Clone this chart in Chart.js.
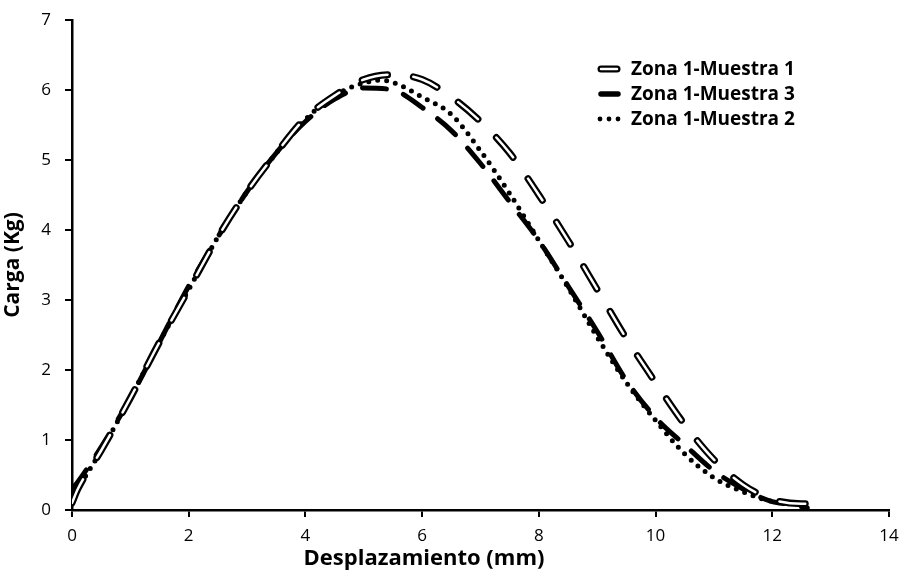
<!DOCTYPE html>
<html>
<head>
<meta charset="utf-8">
<title>Carga vs Desplazamiento</title>
<script src="https://cdn.jsdelivr.net/npm/chart.js@4"></script>
<style>
    html, body { margin: 0; padding: 0; background: #fff; }
    #wrap { width: 904px; height: 571px; }
</style>
</head>
<body>
<div id="wrap"><canvas id="myChart" width="904" height="571"></canvas></div>
<script>
// Zona 1 - Muestra 1
const xM1 = [0, 0.1, 0.5, 1, 1.5, 2, 2.5, 3, 3.5, 4, 4.5, 5, 5.5, 6, 6.5, 7, 7.5, 8, 8.5, 9, 9.5, 10, 10.5, 11, 11.5, 12, 12.5, 12.85];
const yM1 = [0.1, 0.3, 0.85, 1.6, 2.4, 3.15, 3.9, 4.55, 5.1, 5.6, 5.92, 6.15, 6.22, 6.15, 5.9, 5.55, 5.1, 4.5, 3.85, 3.15, 2.45, 1.82, 1.22, 0.72, 0.36, 0.15, 0.09, 0.1];

// Zona 1 - Muestra 2
const xM2 = [0, 0.1, 0.5, 1, 1.5, 2, 2.5, 3, 3.5, 4, 4.5, 5, 5.3, 5.5, 6, 6.5, 7, 7.5, 8, 8.5, 9, 9.5, 10, 10.5, 11, 11.5, 12, 12.4];
const yM2 = [0.15, 0.3, 0.85, 1.6, 2.4, 3.15, 3.9, 4.55, 5.1, 5.58, 5.92, 6.1, 6.14, 6.11, 5.9, 5.65, 5.13, 4.52, 3.85, 3.18, 2.47, 1.82, 1.28, 0.8, 0.46, 0.26, 0.12, 0.08];

// Zona 1 - Muestra 3
const xM3 = [0, 0.1, 0.5, 1, 1.5, 2, 2.5, 3, 3.5, 4, 4.5, 5, 5.5, 6, 6.5, 7, 7.5, 8, 8.5, 9, 9.5, 10, 10.5, 11, 11.5, 12, 12.3, 12.6];
const yM3 = [0.3, 0.4, 0.9, 1.6, 2.4, 3.2, 3.9, 4.55, 5.1, 5.55, 5.87, 6.03, 6.0, 5.75, 5.42, 4.95, 4.4, 3.85, 3.2, 2.55, 1.85, 1.32, 0.93, 0.56, 0.3, 0.12, 0.08, 0.03];

const seriesNames = ['Zona 1-Muestra 1', 'Zona 1-Muestra 3', 'Zona 1-Muestra 2'];
const xTicks = [0, 2, 4, 6, 8, 10, 12, 14];
const yTicks = [0, 1, 2, 3, 4, 5, 6, 7];

function toPoints(xs, ys) {
    return xs.map(function(x, i) { return { x: x, y: ys[i] }; });
}

const FONT = '"Open Sans", Lato, sans-serif';

// Draws the legend box and the x axis title
const extrasPlugin = {
    id: 'extras',
    afterDraw: function(chart) {
        const ctx = chart.ctx;
        ctx.save();

        // legend markers
        const lx = 601, rows = [69, 94, 119];
        ctx.lineCap = 'round';
        ctx.strokeStyle = '#000';
        ctx.lineWidth = 7;
        ctx.beginPath(); ctx.moveTo(lx, rows[0]); ctx.lineTo(lx + 16, rows[0]); ctx.stroke();
        ctx.strokeStyle = '#fff';
        ctx.lineWidth = 2.5;
        ctx.beginPath(); ctx.moveTo(lx, rows[0]); ctx.lineTo(lx + 16, rows[0]); ctx.stroke();
        ctx.strokeStyle = '#000';
        ctx.lineWidth = 5.5;
        ctx.beginPath(); ctx.moveTo(lx, rows[1]); ctx.lineTo(lx + 17, rows[1]); ctx.stroke();
        ctx.fillStyle = '#000';
        [lx - 1, lx + 8, lx + 17].forEach(function(dx) {
            ctx.beginPath(); ctx.arc(dx, rows[2], 2.4, 0, Math.PI * 2); ctx.fill();
        });

        // legend text
        ctx.font = 'bold 19px ' + FONT;
        ctx.textBaseline = 'middle';
        ctx.textAlign = 'left';
        seriesNames.forEach(function(name, i) {
            ctx.fillText(name, 631, rows[i] + 1);
        });

        // x axis title
        ctx.font = 'bold 22px ' + FONT;
        ctx.textAlign = 'center';
        ctx.fillText('Desplazamiento (mm)', 424, 559);
        ctx.restore();
    }
};

const hollowDash = [26, 26];

const ctx = document.getElementById('myChart').getContext('2d');
const myChart = new Chart(ctx, {
    type: 'line',
    data: {
        datasets: [
            {
                label: seriesNames[0] + ' (interior)',
                data: toPoints(xM1, yM1),
                borderColor: '#fff',
                borderWidth: 2.5,
                borderDash: hollowDash,
                borderCapStyle: 'round',
                order: 0
            },
            {
                label: seriesNames[0],
                data: toPoints(xM1, yM1),
                borderColor: '#000',
                borderWidth: 7,
                borderDash: hollowDash,
                borderCapStyle: 'round',
                order: 1
            },
            {
                label: seriesNames[2],
                data: toPoints(xM2, yM2),
                borderColor: '#000',
                borderWidth: 5,
                borderDash: [0, 9],
                borderCapStyle: 'round',
                order: 2
            },
            {
                label: seriesNames[1],
                data: toPoints(xM3, yM3),
                borderColor: '#000',
                borderWidth: 5,
                borderDash: [24, 18],
                borderCapStyle: 'round',
                order: 3
            }
        ]
    },
    options: {
        responsive: false,
        animation: false,
        layout: { padding: { top: 20, right: 15, left: 0, bottom: 0 } },
        elements: {
            point: { radius: 0 },
            line: { tension: 0, cubicInterpolationMode: 'monotone', fill: false }
        },
        plugins: {
            legend: { display: false },
            tooltip: { enabled: false }
        },
        scales: {
            x: {
                type: 'linear',
                min: xTicks[0],
                max: xTicks[xTicks.length - 1],
                afterBuildTicks: function(scale) { scale.ticks = xTicks.map(function(v) { return { value: v }; }); },
                afterFit: function(scale) { scale.height = 61; scale.paddingRight = 0; scale.paddingLeft = 0; },
                grid: { drawOnChartArea: false, drawTicks: true, tickLength: 7, color: '#000', lineWidth: 2 },
                border: { color: '#000', width: 2.5 },
                ticks: { color: '#000', font: { family: FONT, size: 17 }, padding: 9, maxRotation: 0 }
            },
            y: {
                type: 'linear',
                min: yTicks[0],
                max: yTicks[yTicks.length - 1],
                afterBuildTicks: function(scale) { scale.ticks = yTicks.map(function(v) { return { value: v }; }); },
                afterFit: function(scale) { scale.width = 72; scale.paddingTop = 0; scale.paddingBottom = 0; },
                grid: { drawOnChartArea: false, drawTicks: true, tickLength: 7, color: '#000', lineWidth: 2 },
                border: { color: '#000', width: 2.5 },
                ticks: { color: '#000', font: { family: FONT, size: 17 }, padding: 14 },
                title: {
                    display: true,
                    text: 'Carga (Kg)',
                    color: '#000',
                    font: { family: FONT, size: 21, weight: 'bold' },
                    padding: { top: 0, bottom: 0 }
                }
            }
        }
    },
    plugins: [extrasPlugin]
});
</script>
</body>
</html>
